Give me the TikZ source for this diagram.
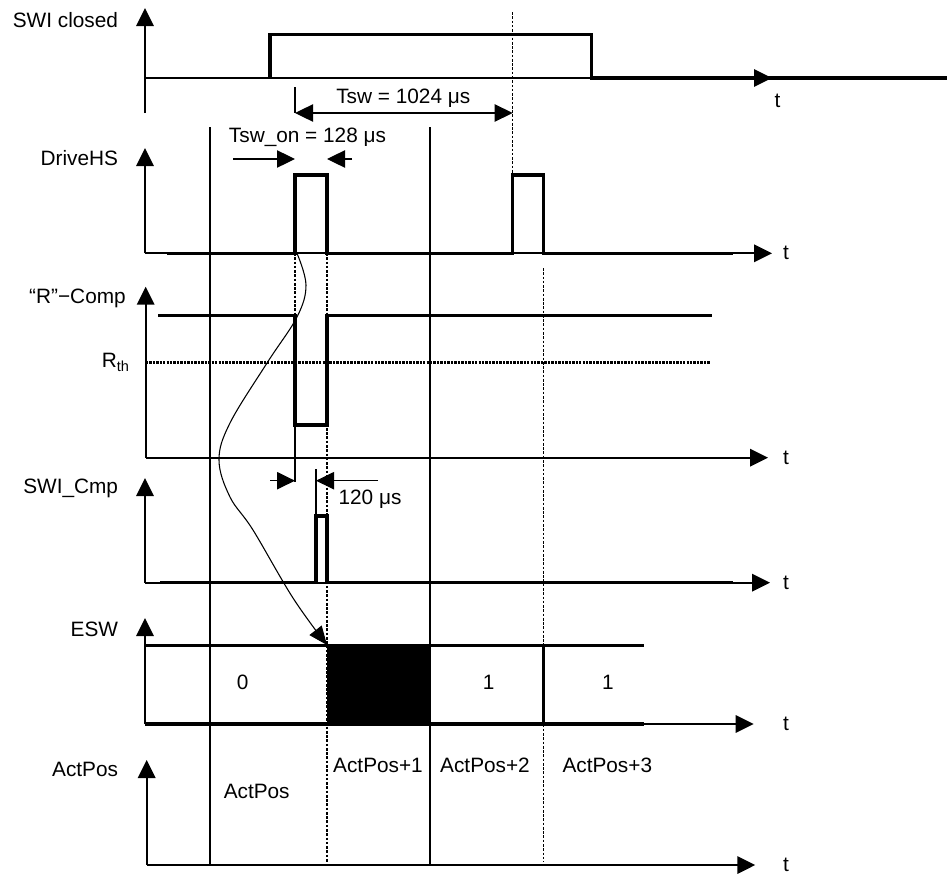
\documentclass[tikz,border=0pt]{standalone}
\usepackage{fontspec}
\setmainfont{Liberation Sans}
\usetikzlibrary{arrows.meta}
\begin{document}
\begin{tikzpicture}[x=0.75pt,y=-0.75pt,
  lbl/.style={font=\fontsize{15.6}{18}\selectfont, inner sep=0pt},
  arrowtip/.style={-{Triangle[length=13.5pt,width=13pt]}},
  axisline/.style={line width=1.7pt, arrowtip},
  sigline/.style={line width=2.5pt, line join=miter},
  gridline/.style={line width=0.8pt},
  dashline/.style={line width=0.9pt, dash pattern=on 2pt off 1.2pt},
  dimline/.style={line width=0.9pt, arrowtip},
  dimboth/.style={line width=0.9pt, {Triangle[length=13.5pt,width=13pt]}-{Triangle[length=13.5pt,width=13pt]}},
  dotline/.style={line width=2.2pt, dash pattern=on 1.8pt off 0.8pt},
]
\useasboundingbox (0,0) rectangle (947,875);

% thin vertical grid lines
\draw[gridline] (210,127) -- (210,865);
\draw[gridline] (430,127) -- (430,865);

% dashed vertical lines
\draw[dashline] (512.7,12) -- (512.7,175);
\draw[dashline] (295,253) -- (295,316);
\draw[gridline] (295,425) -- (295,482);
\draw[dashline] (327,253) -- (327,863);
\draw[dashline] (543.7,268) -- (543.7,862);

% ---------- SWI closed ----------
\draw[axisline] (145,113) -- (145,8);
\draw[axisline] (145,78) -- (772,78);
\draw[sigline] (270,78) -- (270,34.3) -- (591.3,34.3) -- (591.3,78) -- (947,78);
\node[lbl, anchor=base east] (lswi) at (118.3,27) {SWI closed};
\node[lbl, anchor=base] (t1) at (777.5,107.7) {t};

% Tsw dimension
\draw[gridline] (295,87) -- (295,113);
\draw[dimboth] (295,113) -- (512.7,113);
\node[lbl, anchor=base] (tsw) at (403.3,103.3) {Tsw = 1024 μs};

% Tsw_on dimension
\node[lbl, anchor=base] (tswon) at (307.5,142.7) {Tsw\_on = 128 μs};
\draw[dimline] (233,159) -- (295,159);
\draw[dimline] (352,159) -- (327,159);

% ---------- DriveHS ----------
\draw[axisline] (145,253.3) -- (145,148);
\draw[axisline] (145,253.3) -- (772,253.3);
\draw[sigline] (167,253.3) -- (295,253.3) -- (295,175) -- (327,175) -- (327,253.3)
  -- (512.7,253.3) -- (512.7,175) -- (543.7,175) -- (543.7,253.3) -- (733,253.3);
\node[lbl, anchor=base east] (ldrive) at (118.3,165) {DriveHS};
\node[lbl, anchor=base] (t2) at (786,259.3) {t};

% ---------- "R"-Comp ----------
\draw[axisline] (145.7,457.7) -- (145.7,286.7);
\draw[axisline] (145.7,457.7) -- (768,457.7);
\draw[dotline] (145.7,362.7) -- (710,362.7);
\draw[sigline] (158,315.7) -- (295,315.7) -- (295,425) -- (327,425) -- (327,315.7) -- (712,315.7);
\node[lbl, anchor=base east] (lrcomp) at (126,303.3) {“R”−Comp};
\node[lbl, anchor=base east] (lrth) at (130,367.7) {R\textsubscript{th}};
\node[lbl, anchor=base] (t3) at (786,464.3) {t};

% 120 us dimension
\draw[gridline] (316,469) -- (316,516);
\draw[dimline] (270,480.7) -- (295,480.7);
\draw[dimline] (378,480.7) -- (316,480.7);
\node[lbl, anchor=base] (t120) at (370,504.3) {120 μs};

% ---------- SWI_Cmp ----------
\draw[axisline] (145,582.7) -- (145,478);
\draw[axisline] (145,582.7) -- (770,582.7);
\draw[sigline] (160,582.7) -- (316,582.7) -- (316,516) -- (327,516) -- (327,582.7) -- (733,582.7);
\node[lbl, anchor=base east] (lcmp) at (118.3,493.3) {SWI\_Cmp};
\node[lbl, anchor=base] (t4) at (786,589.3) {t};

% ---------- ESW ----------
\fill (327,645) rectangle (430,724);
\draw[axisline] (145,724) -- (145,618);
\draw[axisline] (145,724) -- (753.7,724);
\draw[sigline] (145,645.5) -- (643.7,645.5);
\draw[sigline] (145,724) -- (643.7,724);
\draw[sigline] (543.7,645) -- (543.7,724);
\node[lbl, anchor=base east] (lesw) at (118.3,636.7) {ESW};
\node[lbl, anchor=base] (e0) at (242.7,689.3) {0};
\node[lbl, anchor=base] (e1) at (488.7,689.3) {1};
\node[lbl, anchor=base] (e2) at (608,689.3) {1};
\node[lbl, anchor=base] (t5) at (786,730) {t};

% ---------- ActPos ----------
\draw[axisline] (146.7,865) -- (146.7,760);
\draw[axisline] (146.7,865) -- (755.3,865);
\node[lbl, anchor=base east] (lact) at (118.3,776.7) {ActPos};
\node[lbl, anchor=base] (a0) at (256.7,798.3) {ActPos};
\node[lbl, anchor=base] (a1) at (378,772.7) {ActPos+1};
\node[lbl, anchor=base] (a2) at (485,772.7) {ActPos+2};
\node[lbl, anchor=base] (a3) at (607.3,772.7) {ActPos+3};
\node[lbl, anchor=base] (t6) at (786,871) {t};

% causal curve
\coordinate (cstart) at (297,253.3);
\coordinate (cend) at (327,645);
\draw[line width=0.8pt, -{Triangle[length=14pt,width=11.5pt]}]
  plot[smooth, tension=0.6] coordinates {(cstart) (306,285) (297,317) (267,363) (230,423) (219,460) (230,497) (253,530) (293,598) (cend)};
\end{tikzpicture}
\end{document}
